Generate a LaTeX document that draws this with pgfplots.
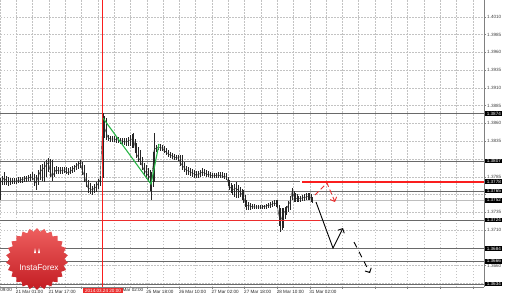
\documentclass[border=0pt]{standalone}
\usepackage{fontspec}
\setmainfont{Liberation Sans}
\usepackage{pgfplots}
\pgfplotsset{compat=1.18}
\usepackage{pgfplotstable}
\usetikzlibrary{shapes.geometric,arrows.meta}

\definecolor{gridc}{RGB}{195,195,195}
\definecolor{lvl}{RGB}{105,105,105}
\definecolor{lvllight}{RGB}{190,190,190}
\definecolor{mtred}{RGB}{235,45,45}
\definecolor{vred}{RGB}{250,30,30}
\definecolor{mtgreen}{RGB}{40,180,70}
\definecolor{logotop}{RGB}{238,95,95}
\definecolor{logobot}{RGB}{195,28,34}
\newcommand\tl{\fontsize{4.6}{5}\selectfont}

\pgfplotstableread{
x c h l
0 1.37761 1.37832 1.37522
2 1.37790 1.37860 1.37740
4 1.37832 1.37916 1.37733
6 1.37800 1.37860 1.37740
8 1.37775 1.37846 1.37719
10 1.37780 1.37830 1.37740
12 1.37789 1.37832 1.37747
14 1.37789 1.37832 1.37747
16 1.37789 1.37832 1.37747
18 1.37795 1.37840 1.37755
20 1.37803 1.37846 1.37761
22 1.37810 1.37852 1.37768
24 1.37818 1.37860 1.37775
26 1.37825 1.37866 1.37782
28 1.37832 1.37874 1.37789
30 1.37840 1.37890 1.37796
32 1.37846 1.37916 1.37803
34 1.37810 1.37890 1.37720
36 1.37761 1.37874 1.37663
38 1.37840 1.37950 1.37740
40 1.37916 1.38014 1.37803
42 1.37950 1.38030 1.37790
44 1.37972 1.38057 1.37775
46 1.38010 1.38090 1.37850
48 1.38043 1.38113 1.37916
50 1.37950 1.38100 1.37850
52 1.37846 1.38085 1.37789
54 1.37900 1.37980 1.37840
56 1.37944 1.38000 1.37888
58 1.37936 1.37990 1.37888
60 1.37930 1.37986 1.37888
62 1.37937 1.37986 1.37895
64 1.37944 1.37986 1.37902
66 1.37920 1.37980 1.37888
68 1.37902 1.37972 1.37874
70 1.37920 1.37986 1.37888
72 1.37944 1.38000 1.37902
74 1.37970 1.38020 1.37920
76 1.38000 1.38043 1.37944
78 1.38020 1.38064 1.37958
80 1.38043 1.38085 1.37972
82 1.37960 1.38050 1.37870
84 1.37874 1.38014 1.37775
86 1.37780 1.37900 1.37700
88 1.37691 1.37803 1.37621
90 1.37677 1.37760 1.37607
92 1.37663 1.37719 1.37593
94 1.37684 1.37747 1.37614
96 1.37705 1.37775 1.37635
98 1.37754 1.37818 1.37677
100 1.37803 1.37860 1.37719
103 1.38647 1.38746 1.37832
104 1.38560 1.38700 1.38400
106 1.38479 1.38675 1.38366
108 1.38400 1.38440 1.38350
110 1.38380 1.38422 1.38338
112 1.38380 1.38422 1.38338
114 1.38380 1.38422 1.38338
116 1.38373 1.38415 1.38331
118 1.38366 1.38408 1.38324
120 1.38359 1.38401 1.38310
122 1.38352 1.38394 1.38296
124 1.38345 1.38394 1.38289
126 1.38338 1.38394 1.38282
128 1.38352 1.38415 1.38282
130 1.38366 1.38436 1.38282
132 1.38380 1.38450 1.38260
133 1.38394 1.38464 1.38253
135 1.38280 1.38380 1.38180
136 1.38183 1.38324 1.38113
138 1.38130 1.38270 1.38060
140 1.38085 1.38225 1.38014
142 1.38010 1.38130 1.37940
144 1.37944 1.38043 1.37860
146 1.37910 1.38010 1.37820
148 1.37874 1.37972 1.37775
150 1.37840 1.37940 1.37650
151 1.37803 1.37916 1.37522
153 1.38000 1.38200 1.37700
154 1.38225 1.38464 1.37775
156 1.38250 1.38300 1.38200
158 1.38268 1.38310 1.38225
160 1.38260 1.38303 1.38218
162 1.38253 1.38296 1.38211
164 1.38225 1.38275 1.38183
166 1.38197 1.38253 1.38155
168 1.38176 1.38225 1.38134
170 1.38155 1.38197 1.38113
172 1.38141 1.38183 1.38099
174 1.38127 1.38169 1.38085
176 1.38120 1.38162 1.38078
178 1.38113 1.38155 1.38071
180 1.38060 1.38155 1.38000
182 1.38014 1.38155 1.37944
184 1.37980 1.38050 1.37910
186 1.37944 1.38000 1.37874
188 1.37930 1.37986 1.37867
190 1.37916 1.37972 1.37860
192 1.37902 1.37958 1.37846
194 1.37888 1.37944 1.37832
196 1.37881 1.37937 1.37832
198 1.37874 1.37930 1.37832
200 1.37895 1.37951 1.37846
202 1.37916 1.37972 1.37860
204 1.37902 1.37958 1.37853
206 1.37888 1.37944 1.37846
208 1.37881 1.37930 1.37839
210 1.37874 1.37916 1.37832
212 1.37867 1.37909 1.37832
214 1.37860 1.37902 1.37832
216 1.37867 1.37909 1.37832
218 1.37874 1.37916 1.37832
220 1.37867 1.37916 1.37832
222 1.37860 1.37916 1.37832
224 1.37853 1.37909 1.37818
226 1.37846 1.37902 1.37803
228 1.37780 1.37850 1.37720
229 1.37719 1.37803 1.37663
231 1.37690 1.37760 1.37620
232 1.37663 1.37733 1.37593
234 1.37677 1.37754 1.37570
236 1.37691 1.37775 1.37550
238 1.37663 1.37740 1.37557
240 1.37635 1.37705 1.37564
242 1.37600 1.37680 1.37520
243 1.37564 1.37663 1.37480
245 1.37500 1.37590 1.37420
246 1.37452 1.37522 1.37382
248 1.37445 1.37500 1.37382
250 1.37438 1.37480 1.37382
252 1.37431 1.37473 1.37389
254 1.37424 1.37466 1.37396
256 1.37424 1.37459 1.37396
258 1.37424 1.37452 1.37396
260 1.37424 1.37452 1.37396
262 1.37424 1.37452 1.37396
264 1.37431 1.37459 1.37396
266 1.37438 1.37466 1.37396
268 1.37445 1.37480 1.37403
270 1.37452 1.37494 1.37410
272 1.37466 1.37508 1.37424
274 1.37480 1.37522 1.37438
276 1.37473 1.37522 1.37424
277 1.37466 1.37522 1.37410
279 1.37300 1.37450 1.37150
280 1.37213 1.37410 1.37072
282 1.37280 1.37410 1.37100
283 1.37339 1.37410 1.37128
285 1.37360 1.37425 1.37250
286 1.37382 1.37438 1.37311
288 1.37440 1.37510 1.37350
290 1.37494 1.37578 1.37382
292 1.37635 1.37691 1.37522
294 1.37580 1.37650 1.37500
295 1.37550 1.37621 1.37494
297 1.37540 1.37600 1.37494
298 1.37536 1.37578 1.37494
300 1.37543 1.37585 1.37500
302 1.37550 1.37593 1.37508
304 1.37557 1.37607 1.37515
306 1.37564 1.37621 1.37522
308 1.37571 1.37621 1.37522
309 1.37578 1.37621 1.37522
311 1.37550 1.37600 1.37500
312 1.37522 1.37564 1.37480
}\price

\begin{document}
\begin{tikzpicture}[x=1pt,y=1pt]
\begin{axis}[
  at={(-20pt,10pt)}, anchor=south west,
  scale only axis, width=504pt, height=287pt,
  xmin=-20, xmax=484, ymin=1.36299, ymax=1.40335,
  axis line style={draw=none},
  scaled y ticks=false,
  ytick={1.3635,1.3660,1.3685,1.3710,1.3735,1.3760,1.3785,1.3810,1.3835,1.3860,1.3885,1.3910,1.3935,1.3960,1.3985,1.4010},
  yticklabels={,1.3660,,1.3710,1.3735,,1.3785,,1.3835,1.3860,1.3885,1.3910,1.3935,1.3960,1.3985,1.4010},
  ytick pos=right, yticklabel pos=right,
  xtick pos=bottom,
  xtick={-16.3,16.3,48.9,81.5,114.1,146.7,179.3,211.9,244.5,277.1,309.7,342.3,374.9,407.5,440.1,472.7},
  xticklabels={,21 Mar 01:00,21 Mar 17:00,,,25 Mar 18:00,26 Mar 10:00,27 Mar 02:00,27 Mar 18:00,28 Mar 10:00,31 Mar 02:00,,,,,},
  minor xtick={0.0,32.6,65.2,97.8,130.4,163.0,195.6,228.2,260.8,293.4,326.0,358.6,391.2,423.8,456.4},
  extra x ticks={0.6,122.9},
  extra x tick labels={09:00,Mar 02:00},
  extra x tick style={grid=none, major tick length=0pt},
  tick align=outside,
  major tick length=2pt, minor tick length=0pt,
  tick style={gray, line width=0.4pt},
  xmajorgrids, xminorgrids, ymajorgrids,
  major grid style={gridc, dash pattern=on 1.5pt off 1.5pt, line width=0.4pt},
  minor grid style={gridc, dash pattern=on 1.5pt off 1.5pt, line width=0.4pt},
  xticklabel style={font=\tl, text=black!85, anchor=north west, xshift=-1.5pt, inner sep=1pt},
  yticklabel style={font=\tl, text=black!75, anchor=west, inner sep=1pt},
]
% level lines
\addplot[draw=lvl, line width=0.6pt] coordinates {(-20,1.3874) (484,1.3874)};
\addplot[draw=lvl, line width=0.6pt] coordinates {(-20,1.3807) (484,1.3807)};
\addplot[draw=lvl, line width=0.6pt] coordinates {(-20,1.3778) (300,1.3778)};
\addplot[draw=lvl, line width=0.6pt] coordinates {(-20,1.3765) (484,1.3765)};
\addplot[draw=lvllight, line width=0.6pt] coordinates {(-20,1.3752) (484,1.3752)};
\addplot[draw=lvl, line width=0.6pt] coordinates {(-20,1.3724) (101,1.3724)};
\addplot[draw=lvl, line width=0.6pt] coordinates {(320,1.3724) (484,1.3724)};
\addplot[draw=lvl, line width=0.6pt] coordinates {(-20,1.3684) (484,1.3684)};
\addplot[draw=lvl, line width=0.6pt] coordinates {(-20,1.3666) (484,1.3666)};
\addplot[draw=lvl, line width=0.6pt] coordinates {(-20,1.3634) (484,1.3634)};
% price bars
\addplot[draw=black!85, line width=0.4pt, mark=none,
  error bars/.cd, y dir=both, y explicit, error mark=none,
  error bar style={line width=0.9pt, black!85}]
  table[x=x, y=c, y error plus expr=\thisrow{h}-\thisrow{c}, y error minus expr=\thisrow{c}-\thisrow{l}] {\price};
% red vertical marker line
\addplot[draw=vred, line width=1.2pt] coordinates {(102.6,1.36299) (102.6,1.40335)};
% red levels
\addplot[draw=vred, line width=2pt] coordinates {(302,1.37778) (400,1.37778) (483.5,1.37778)};
\addplot[draw=mtred, line width=1.3pt] coordinates {(101,1.3723) (320,1.3723)};
% green wave
\addplot[draw=mtgreen, line width=1.1pt] coordinates {(103,1.38675) (151,1.37747) (159,1.38310)};
% forecast arrows
\addplot[draw=black, line width=0.9pt, -{Straight Barb[length=3.5pt,width=7pt]}] coordinates {(316,1.37494) (333,1.36847) (343,1.37128)};
\addplot[draw=black, line width=0.9pt, dash pattern=on 6pt off 5pt, -{Straight Barb[length=3.5pt,width=7pt]}] coordinates {(354,1.36931) (370,1.36495)};
\addplot[draw=mtred, line width=0.9pt, dash pattern=on 5pt off 3pt, -{Straight Barb[length=3.5pt,width=7pt]}] coordinates {(315,1.37593) (327,1.37761) (335,1.37494)};
% anchors for value boxes
\coordinate (b1) at (axis cs:484,1.3874);
\coordinate (b2) at (axis cs:484,1.3807);
\coordinate (b3) at (axis cs:484,1.3778);
\coordinate (b4) at (axis cs:484,1.3765);
\coordinate (b5) at (axis cs:484,1.3752);
\coordinate (b6) at (axis cs:484,1.3724);
\coordinate (b7) at (axis cs:484,1.3684);
\coordinate (b8) at (axis cs:484,1.3666);
\coordinate (b9) at (axis cs:484,1.3634);
\coordinate (xm) at (axis cs:103,1.36299);
\end{axis}
% axis frame (right and bottom)
\draw[gray, line width=0.6pt] (484,10) -- (484,297);
\draw[gray, line width=0.6pt] (0,10) -- (484,10);
% value boxes
\foreach \c/\t in {b1/1.3874,b2/1.3807,b3/1.3778,b4/1.3765,b5/1.3752,b6/1.3724,b7/1.3684,b8/1.3666,b9/1.3634}{
  \node[fill=black, text=white, font=\tl, inner xsep=1.6pt, inner ysep=0.7pt, anchor=west] at ([xshift=1pt]\c) {\t};
}
\node[fill=mtred, text=white, font=\tl, inner xsep=2pt, inner ysep=0.9pt, anchor=north] at ([yshift=-1.2pt]xm) {2014.03.24 20:00};
% logo
\node[star, star points=26, star point ratio=1.13, minimum size=62pt, inner sep=0pt,
      top color=logotop, bottom color=logobot, draw=none] at (37,38) {};
\fill[white] (34,44) -- (35,49) -- (36,44) -- cycle;
\fill[white] (38,44) -- (39,49) -- (40,44) -- cycle;
\node[text=white, font=\fontsize{8.3}{9}\selectfont] at (39,29) {InstaForex};
\pgfresetboundingbox
\path (0,0) rectangle (510,297);
\end{tikzpicture}
\end{document}
